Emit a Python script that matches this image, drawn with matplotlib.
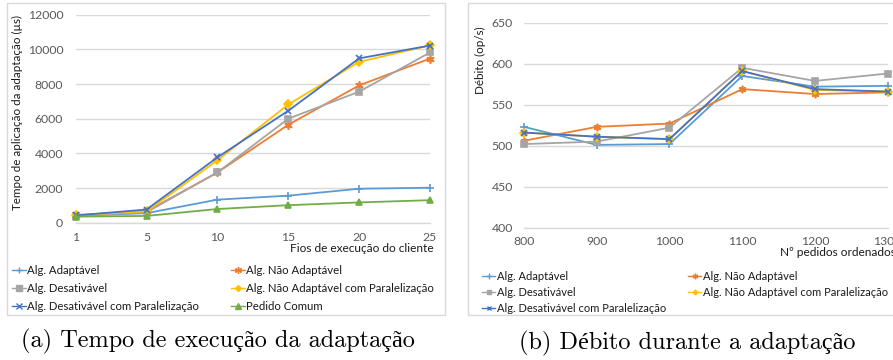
import matplotlib
matplotlib.use('Agg')
import matplotlib.pyplot as plt
from matplotlib.lines import Line2D
from matplotlib.patches import Rectangle

# ---------------- data ----------------
threads = ['1', '5', '10', '15', '20', '25']
t_adapt = [400, 550, 1330, 1560, 1960, 2020]
t_nao_adapt = [420, 650, 2900, 5650, 7920, 9470]
t_desat = [400, 600, 2900, 6000, 7560, 9820]
t_nao_adapt_par = [450, 650, 3600, 6820, 9280, 10230]
t_desat_par = [420, 760, 3770, 6460, 9480, 10220]
t_comum = [350, 390, 790, 1010, 1170, 1300]

pedidos = ['800', '900', '1000', '1100', '1200', '1300']
d_adapt = [523, 501, 502, 585, 572, 573]
d_nao_adapt = [506, 523, 527, 569, 563, 565]
d_desat = [502, 505, 522, 595, 579, 588]
d_nao_adapt_par = [516, 511, 508, 591, 568, 566]
d_desat_par = [516, 511, 508, 591, 569, 566]

names = ['Alg. Adaptável', 'Alg. Não Adaptável', 'Alg. Desativável',
         'Alg. Não Adaptável com Paralelização',
         'Alg. Desativável com Paralelização', 'Pedido Comum']

# ---------------- style ----------------
W, H = 893, 360
FONT = ['Lato', 'DejaVu Sans']
plt.rcParams['font.family'] = FONT
colors = {'A': '#5B9BD5', 'NA': '#ED7D31', 'D': '#A5A5A5',
          'NAP': '#FFC000', 'DP': '#4472C4', 'C': '#70AD47'}
markers = {'A': '+', 'NA': (6, 2, 0), 'D': 's', 'NAP': 'D', 'DP': 'x', 'C': '^'}
msizes = {'A': 6, 'NA': 6, 'D': 5, 'NAP': 4, 'DP': 5, 'C': 5}
GRID = '#D9D9D9'
TICK = '#595959'

fig = plt.figure(figsize=(W / 100, H / 100), dpi=100)


def fx(px):
    return px / W


def fy(py):
    return 1 - py / H


def add_axes(l, r, t, b):
    return fig.add_axes([fx(l), fy(b), (r - l) / W, (b - t) / H])


def style(ax, xpad, ypad):
    for s in ['top', 'right', 'left']:
        ax.spines[s].set_visible(False)
    ax.spines['bottom'].set_color(GRID)
    ax.spines['bottom'].set_linewidth(1.0)
    ax.grid(axis='y', color=GRID, linewidth=1.0)
    ax.set_axisbelow(True)
    ax.tick_params(axis='both', length=0, labelsize=8.8, labelcolor=TICK)
    ax.tick_params(axis='x', pad=xpad)
    ax.tick_params(axis='y', pad=ypad)


def plot_series(ax, xs, key, ys, ms_scale=1.0):
    ax.plot(xs, ys, color=colors[key], marker=markers[key],
            markersize=msizes[key] * ms_scale,
            markeredgewidth=1.2, linewidth=1.3, clip_on=False, zorder=3)


# panel frames
fig.add_artist(Rectangle((fx(7), fy(315)), (445 - 7) / W, (315 - 3) / H,
                         transform=fig.transFigure, fill=False,
                         edgecolor=GRID, linewidth=1.0))
fig.add_artist(Rectangle((fx(468), fy(315)), (905 - 468) / W, (315 - 3) / H,
                         transform=fig.transFigure, fill=False,
                         edgecolor=GRID, linewidth=1.0))

# ---------------- left chart ----------------
ax1 = add_axes(75.7, 430, 14.7, 222.7)
style(ax1, 6.5, 9)
x1 = list(range(len(threads)))
plot_series(ax1, x1, 'A', t_adapt)
plot_series(ax1, x1, 'NA', t_nao_adapt)
plot_series(ax1, x1, 'D', t_desat)
plot_series(ax1, x1, 'NAP', t_nao_adapt_par)
plot_series(ax1, x1, 'DP', t_desat_par)
plot_series(ax1, x1, 'C', t_comum)
ax1.set_xlim(0, len(threads) - 1)
ax1.set_xticks(x1)
ax1.set_xticklabels(threads)
ax1.set_ylim(0, 12000)
ax1.set_yticks(range(0, 12001, 2000))
fig.text(fx(17), fy(112), 'Tempo de aplicação da adaptação (µs)', rotation=90,
         ha='center', va='center', fontsize=8.4, color='#1a1a1a')
fig.text(fx(434), fy(248), 'Fios de execução do cliente', ha='right', va='center',
         fontsize=8.6, color='#1a1a1a')

# ---------------- right chart ----------------
ax2 = add_axes(524, 887.7, 22.7, 227.7)
style(ax2, 6, 8)
x2 = list(range(len(pedidos)))
plot_series(ax2, x2, 'A', d_adapt, 0.9)
plot_series(ax2, x2, 'NA', d_nao_adapt, 0.9)
plot_series(ax2, x2, 'D', d_desat, 0.9)
plot_series(ax2, x2, 'NAP', d_nao_adapt_par, 0.9)
plot_series(ax2, x2, 'DP', d_desat_par, 0.9)
ax2.set_xlim(0, len(pedidos) - 1)
ax2.set_xticks(x2)
ax2.set_xticklabels(pedidos)
ax2.set_ylim(400, 650)
ax2.set_yticks(range(400, 651, 50))
fig.text(fx(480), fy(60), 'Débito (op/s)', rotation=90,
         ha='center', va='center', fontsize=8.4, color='#1a1a1a')
fig.text(fx(780), fy(252), 'Nº pedidos ordenados', ha='left', va='center',
         fontsize=8.6, color='#1a1a1a')


# ---------------- legends ----------------
def handle(key, ms_scale):
    return Line2D([], [], color=colors[key], marker=markers[key],
                  markersize=(msizes[key] - 1) * ms_scale, markeredgewidth=1.0,
                  linewidth=1.0)


def column(keys, labels, x, y, spacing, fs, ms_scale=1.0):
    leg = fig.legend([handle(k, ms_scale) for k in keys], labels, loc='upper left',
                     bbox_to_anchor=(fx(x), fy(y)), frameon=False,
                     borderpad=0, borderaxespad=0, handlelength=1.2,
                     handletextpad=0.15, labelspacing=spacing, fontsize=fs,
                     labelcolor='#1a1a1a')
    return leg


column(['A', 'D', 'DP'], [names[0], names[2], names[4]], 12, 264.5, 0.62, 8.2)
column(['NA', 'NAP', 'C'], [names[1], names[3], names[5]], 231, 264.5, 0.62, 8.2)
column(['A', 'D', 'DP'], [names[0], names[2], names[4]], 482, 271, 0.45, 8.0, 0.8)
column(['NA', 'NAP'], [names[1], names[3]], 688, 271, 0.45, 8.0, 0.8)

# ---------------- captions ----------------
CAP = ['cmr10', 'Liberation Serif', 'DejaVu Serif']
fig.text(fx(218), fy(341), '(a) Tempo de execução da adaptação', ha='center',
         va='center', fontsize=17.5, family=CAP)
fig.text(fx(687), fy(343), '(b) Débito durante a adaptação', ha='center',
         va='center', fontsize=17.5, family=CAP)

fig.savefig('out.png', dpi=100)
